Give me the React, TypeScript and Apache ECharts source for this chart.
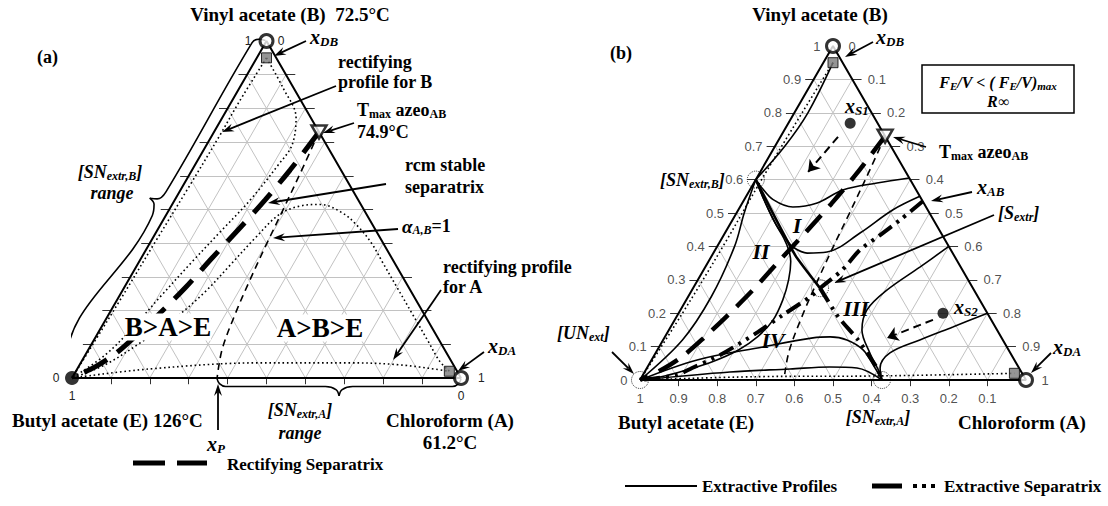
import React, { useEffect, useRef } from "react";
import * as echarts from "echarts";

const SERIF = '"Liberation Serif", "Times New Roman", Times, serif';
const SANS = '"Liberation Sans", Arial, Helvetica, sans-serif';
const SQ = Math.sqrt(3) / 2;

// ---- compositions are [x_A (chloroform), x_B (vinyl acetate)], x_E = 1 - x_A - x_B ----
const GRID_LEVELS = [0.1, 0.2, 0.3, 0.4, 0.5, 0.6, 0.7, 0.8, 0.9];
const TICK_LEVELS = [0, 0.1, 0.2, 0.3, 0.4, 0.5, 0.6, 0.7, 0.8, 0.9, 1];
const LEFT_TICK_LABELS = ["0", "0.1", "0.2", "0.3", "0.4", "0.5", "0.6", "0.7", "0.8", "0.9", "1"];
const RIGHT_TICK_LABELS = ["1", "0.9", "0.8", "0.7", "0.6", "0.5", "0.4", "0.3", "0.2", "0.1", "0"];
const BOTTOM_TICK_LABELS = ["1", "0.9", "0.8", "0.7", "0.6", "0.5", "0.4", "0.3", "0.2", "0.1"];

const V_E = [0, 0];
const V_A = [1, 0];
const V_B = [0, 1];
const AZEO_AB = [0.27, 0.73];
const X_DB = [0.025, 0.95];
const X_DA = [0.96, 0.02];
const SN_B = [0, 0.6];
const S_EXTR = [0.329, 0.275];
const SN_A = [0.627, 0];
const UN_EXT = [0, 0];
const X_S1 = [0.16, 0.769];
const X_S2 = [0.685, 0.2];

// rectifying separatrix (rcm stable separatrix)
const RECT_SEPARATRIX = [[0.27, 0.73], [0.252, 0.617], [0.232, 0.528], [0.209, 0.445], [0.182, 0.356], [0.157, 0.267], [0.13, 0.193], [0.103, 0.128], [0.075, 0.071], [0.043, 0.033], [0, 0]];
// univolatility curve alpha_AB = 1
const ALPHA_AB = [[0.27, 0.73], [0.28, 0.638], [0.293, 0.499], [0.301, 0.401], [0.312, 0.291], [0.325, 0.187], [0.344, 0.083], [0.373, 0]];

// (a) rectifying profiles
const PROF_B_LEFT_A = [[0.025, 0.95], [0.02, 0.82], [0.02, 0.72], [0.017, 0.57], [0.012, 0.4], [0.008, 0.23], [0.004, 0.11], [0, 0]];
const PROF_B_RIGHT_A = [[0.025, 0.95], [0.112, 0.861], [0.19, 0.772], [0.22, 0.691], [0.214, 0.632], [0.194, 0.528], [0.164, 0.433], [0.136, 0.344], [0.106, 0.24], [0.082, 0.151], [0.051, 0.068], [0, 0]];
const PROF_A_UPPER_A = [[0.96, 0.02], [0.92, 0.05], [0.86, 0.11], [0.78, 0.19], [0.7, 0.27], [0.63, 0.34], [0.57, 0.4], [0.51, 0.45], [0.45, 0.49], [0.38, 0.515], [0.33, 0.51], [0.29, 0.485], [0.263, 0.415], [0.239, 0.335], [0.214, 0.255], [0.176, 0.178], [0.123, 0.104], [0.065, 0.039], [0, 0]];
const PROF_A_LOWER_A = [[0, 0], [0.187, 0.027], [0.46, 0.045], [0.69, 0.045], [0.824, 0.039], [0.96, 0.02]];

// (b) rectifying profiles
const PROF_B_B = [[0.025, 0.95], [0.02, 0.8], [0.015, 0.6], [0.015, 0.4], [0.01, 0.2], [0, 0]];
const PROF_A_B = [[0, 0], [0.3, 0.01], [0.6, 0.012], [0.96, 0.02]];

// (b) extractive profiles
const EXT_P1 = [[0.025, 0.95], [0.035, 0.8], [0.025, 0.7], [0, 0.6]];
const EXT_P2 = [[0, 0.6], [0.02, 0.5], [0.045, 0.4], [0.06, 0.25], [0.05, 0.12], [0, 0]];
const EXT_II = [[0, 0.6], [0.06, 0.53], [0.12, 0.465], [0.16, 0.425], [0.19, 0.39], [0.213, 0.355], [0.235, 0.3], [0.25, 0.24], [0.255, 0.18], [0.24, 0.13], [0.21, 0.09], [0.16, 0.055], [0.1, 0.028], [0.05, 0.01], [0, 0]];
const EXT_I1 = [[0, 0.6], [0.025, 0.578], [0.075, 0.54], [0.137, 0.518], [0.194, 0.53], [0.241, 0.569], [0.319, 0.59], [0.395, 0.605]];
const EXT_I2 = [[0, 0.6], [0.06, 0.53], [0.12, 0.465], [0.171, 0.419], [0.197, 0.398], [0.243, 0.38], [0.293, 0.383], [0.35, 0.44], [0.4, 0.509], [0.45, 0.55]];
const EXT_III1 = [[0.627, 0], [0.611, 0.021], [0.555, 0.081], [0.5, 0.15], [0.483, 0.21], [0.505, 0.269], [0.556, 0.338], [0.6, 0.4]];
const EXT_III2 = [[0.627, 0], [0.604, 0.036], [0.607, 0.081], [0.665, 0.12], [0.731, 0.159], [0.8, 0.2]];
const EXT_IV1 = [[0, 0], [0.118, 0.06], [0.269, 0.099], [0.385, 0.126], [0.428, 0.129], [0.476, 0.12], [0.533, 0.09], [0.591, 0.036], [0.627, 0]];
const EXT_IV2 = [[0, 0], [0.221, 0.024], [0.372, 0.033], [0.472, 0.039], [0.544, 0.036], [0.627, 0]];

// (b) extractive separatrices
const SEP_SNB_S = [[0, 0.6], [0.215, 0.374], [0.329, 0.275]];
const SEP_S_SNA = [[0.329, 0.275], [0.419, 0.189], [0.505, 0.12], [0.602, 0.03], [0.627, 0]];
const SEP_XAB_UN = [[0.465, 0.535], [0.434, 0.479], [0.405, 0.434], [0.375, 0.389], [0.359, 0.329], [0.329, 0.275], [0.316, 0.249], [0.273, 0.195], [0.234, 0.144], [0.17, 0.075], [0.117, 0.036], [0.088, 0.015], [0, 0]];

// (b) profile direction arrows from the feed points
const ARROW_S1 = [[0.149, 0.728], [0.124, 0.623]];
const ARROW_S2 = [[0.669, 0.18], [0.577, 0.126]];

const tern = (p: number[]) => [p[0] + p[1] / 2, p[1] * SQ];
const toXY = (arr: number[][]) => arr.map(tern);

const RICH: any = {
  t: { fontFamily: SERIF, fontWeight: "bold", fontSize: 19, lineHeight: 21 },
  b: { fontFamily: SERIF, fontWeight: "bold", fontSize: 18, lineHeight: 20 },
  bs: { fontFamily: SERIF, fontWeight: "bold", fontSize: 12, lineHeight: 11, verticalAlign: "bottom" },
  bi: { fontFamily: SERIF, fontWeight: "bold", fontStyle: "italic", fontSize: 18, lineHeight: 19 },
  bis: { fontFamily: SERIF, fontWeight: "bold", fontStyle: "italic", fontSize: 12, lineHeight: 11, verticalAlign: "bottom" },
  bx: { fontFamily: SERIF, fontWeight: "bold", fontStyle: "italic", fontSize: 16, lineHeight: 19 },
  bxs: { fontFamily: SERIF, fontWeight: "bold", fontStyle: "italic", fontSize: 11, lineHeight: 11, verticalAlign: "bottom" },
  x: { fontFamily: SERIF, fontWeight: "bold", fontStyle: "italic", fontSize: 20, lineHeight: 21 },
  xs: { fontFamily: SERIF, fontWeight: "bold", fontStyle: "italic", fontSize: 13, lineHeight: 12, verticalAlign: "bottom" },
  al: { fontFamily: SERIF, fontWeight: "bold", fontStyle: "italic", fontSize: 19, lineHeight: 20 },
  big: { fontFamily: SERIF, fontWeight: "bold", fontSize: 27, lineHeight: 28, backgroundColor: "#fff" },
  rn: { fontFamily: SERIF, fontWeight: "bold", fontStyle: "italic", fontSize: 22, lineHeight: 22 },
  leg: { fontFamily: SERIF, fontWeight: "bold", fontSize: 17, lineHeight: 19 },
  n: { fontFamily: SANS, fontSize: 12, lineHeight: 13, fill: "#222" },
};

function T(x: number, y: number, text: string, align: string = "left") {
  return {
    type: "text", x, y, z: 60, silent: true,
    style: { text, rich: RICH, align, verticalAlign: "middle", fill: "#000", fontFamily: SERIF, fontSize: 15, fontWeight: "bold" },
  };
}

function arrow(x1: number, y1: number, x2: number, y2: number, w = 1.8, head = 12, barb = 4) {
  const a = Math.atan2(y2 - y1, x2 - x1);
  const c = Math.cos(a), s = Math.sin(a);
  const bx = x2 - head * c, by = y2 - head * s;
  const nx = x2 - head * 0.65 * c, ny = y2 - head * 0.65 * s;
  return [
    { type: "line", z: 50, silent: true, shape: { x1, y1, x2: nx, y2: ny }, style: { stroke: "#000", lineWidth: w } },
    { type: "polygon", z: 50, silent: true, shape: { points: [[x2, y2], [bx - barb * s, by + barb * c], [nx, ny], [bx + barb * s, by - barb * c]] }, style: { fill: "#000" } },
  ];
}

function hline(x1: number, x2: number, y: number, w: number, extra: any = {}) {
  return { type: "line", z: 50, silent: true, shape: { x1, y1: y, x2, y2: y }, style: { stroke: "#000", lineWidth: w, ...extra } };
}

function curve(gi: number, pts: number[][], lineStyle: any, smooth: number | boolean = 0.35, z = 4) {
  return {
    type: "line", xAxisIndex: gi, yAxisIndex: gi, data: toXY(pts), showSymbol: false, symbol: "none",
    smooth, clip: false, silent: true, z, lineStyle: { color: "#000", ...lineStyle },
  };
}

function segs(gi: number, list: number[][][], lineStyle: any, z = 2) {
  return {
    type: "lines", coordinateSystem: "cartesian2d", xAxisIndex: gi, yAxisIndex: gi, clip: false, silent: true, z,
    data: list.map((c) => ({ coords: c })), lineStyle: { opacity: 1, ...lineStyle }, symbol: ["none", "none"],
  };
}

function marker(gi: number, p: number[], symbol: string, size: any, itemStyle: any, extra: any = {}) {
  return {
    type: "scatter", xAxisIndex: gi, yAxisIndex: gi, data: [tern(p)], symbol, symbolSize: size, clip: false,
    silent: true, z: 10, itemStyle, ...extra,
  };
}

function triangleBase(gi: number) {
  const out: any[] = [];
  const grid: number[][][] = [];
  GRID_LEVELS.forEach((t) => {
    grid.push([tern([0, t]), tern([1 - t, t])]);
    grid.push([tern([t, 0]), tern([t, 1 - t])]);
    grid.push([tern([1 - t, 0]), tern([0, 1 - t])]);
  });
  out.push(segs(gi, grid, { color: "#c2c2c2", width: 1 }, 1));
  const ticks: number[][][] = [];
  GRID_LEVELS.forEach((t) => {
    const l = tern([0, t]);
    ticks.push([[l[0] - 0.022, l[1]], l]);
    const r = tern([1 - t, t]);
    ticks.push([r, [r[0] + 0.024, r[1]]]);
    ticks.push([[t, 0], [t, -0.016]]);
  });
  out.push(segs(gi, ticks, { color: "#333", width: 1 }, 2));
  out.push(curve(gi, [V_E, V_A, V_B, V_E], { width: 2 }, false, 5));
  return out;
}

function brace(gi: number, p0: number[], p1: number[], n: number[], d: number, cusp: number, lineW = 1.6) {
  const L = Math.hypot(p1[0] - p0[0], p1[1] - p0[1]);
  const u = [(p1[0] - p0[0]) / L, (p1[1] - p0[1]) / L];
  const P = (s: number, k: number) => [p0[0] + u[0] * s + n[0] * k, p0[1] + u[1] * s + n[1] * k];
  const m = L / 2;
  const h1 = [P(0, 0.1 * d), P(0.006, 0.65 * d), P(0.022, d), P(m - 0.035, d), P(m - 0.008, 1.35 * d), P(m, cusp)];
  const h2 = [P(m, cusp), P(m + 0.008, 1.35 * d), P(m + 0.035, d), P(L - 0.022, d), P(L - 0.006, 0.65 * d), P(L, 0.1 * d)];
  const mk = (pts: number[][]) => ({
    type: "line", xAxisIndex: gi, yAxisIndex: gi, data: pts, showSymbol: false, symbol: "none", smooth: 0.4,
    clip: false, silent: true, z: 4, lineStyle: { color: "#000", width: lineW },
  });
  return [mk(h1), mk(h2)];
}

function tickLabels(gi: number) {
  const base = { type: "scatter", xAxisIndex: gi, yAxisIndex: gi, symbolSize: 1, clip: false, silent: true, z: 8, itemStyle: { color: "rgba(0,0,0,0)" } };
  const lab = (position: string, distance: number) => ({ show: true, position, distance, formatter: "{b}", color: "#222", fontFamily: SANS, fontSize: 13 });
  return [
    { ...base, data: TICK_LEVELS.map((t, i) => ({ value: tern([0, t]), name: LEFT_TICK_LABELS[i] })), label: lab("left", 12) },
    { ...base, data: TICK_LEVELS.map((t, i) => ({ value: tern([1 - t, t]), name: RIGHT_TICK_LABELS[i] })), label: lab("right", 15) },
    { ...base, data: BOTTOM_TICK_LABELS.map((s, i) => ({ value: tern([TICK_LEVELS[i], 0]), name: s })), label: lab("bottom", 11) },
  ];
}

const DOTTED = { type: [1.6, 2.8], width: 1.6 };
const RING = { color: "#fff", borderColor: "#000", borderWidth: 3 };
const SQUARE = { color: "#7a7a7a", borderColor: "#000", borderWidth: 1 };
const AZEO = { color: "#fff", borderColor: "#000", borderWidth: 2.5 };
const DOT_CIRCLE = { color: "rgba(255,255,255,0)", borderColor: "#000", borderWidth: 1, borderType: "dotted" };

export default function App() {
  const ref = useRef<HTMLDivElement>(null);
  useEffect(() => {
    if (!ref.current) return;
    const chart = echarts.init(ref.current, undefined, { renderer: "svg" });

    const series: any[] = [];
    // ---------- (a) ----------
    series.push(...triangleBase(0));
    series.push(curve(0, PROF_B_LEFT_A, DOTTED));
    series.push(curve(0, PROF_B_RIGHT_A, DOTTED));
    series.push(curve(0, PROF_A_UPPER_A, DOTTED));
    series.push(curve(0, PROF_A_LOWER_A, DOTTED));
    series.push(curve(0, ALPHA_AB, { type: [7, 5], width: 1.6 }));
    series.push(curve(0, RECT_SEPARATRIX, { type: [26, 13], width: 5 }, 0.3, 6));
    series.push(...brace(0, [0.5, SQ], [0, 0], [-SQ, 0.5], 0.03, 0.058));
    series.push(...brace(0, tern([0.373, 0]), [1, 0], [0, -1], 0.022, 0.046));
    series.push(marker(0, V_B, "circle", 13, RING));
    series.push(marker(0, X_DB, "rect", 10, SQUARE));
    series.push(marker(0, AZEO_AB, "triangle", [15, 13], AZEO, { symbolRotate: 180 }));
    series.push(marker(0, V_E, "circle", 14, { color: "#000" }));
    series.push(marker(0, V_A, "circle", 13, RING));
    series.push(marker(0, X_DA, "rect", 10, SQUARE));

    // ---------- (b) ----------
    series.push(...triangleBase(1));
    series.push(curve(1, PROF_B_B, DOTTED));
    series.push(curve(1, PROF_A_B, DOTTED));
    series.push(curve(1, ALPHA_AB, { type: [7, 5], width: 1.6 }));
    series.push(curve(1, RECT_SEPARATRIX, { type: [22, 12], width: 4.5 }, 0.3, 6));
    [EXT_P1, EXT_P2, EXT_II, EXT_I1, EXT_I2, EXT_III1, EXT_III2, EXT_IV1, EXT_IV2].forEach((c) =>
      series.push(curve(1, c, { width: 1.6 }))
    );
    series.push(curve(1, SEP_SNB_S, { width: 2.6 }, 0.2, 6));
    series.push(curve(1, SEP_S_SNA, { type: [16, 6, 3, 6, 3, 6], width: 4 }, 0.2, 6));
    series.push(curve(1, SEP_XAB_UN, { type: [16, 6, 3, 6, 3, 6], width: 4 }, 0.3, 6));
    series.push({
      type: "lines", coordinateSystem: "cartesian2d", xAxisIndex: 1, yAxisIndex: 1, clip: false, silent: true, z: 7,
      data: [{ coords: toXY(ARROW_S1) }, { coords: toXY(ARROW_S2) }],
      symbol: ["none", "arrow"], symbolSize: 11,
      lineStyle: { color: "#000", width: 2, type: [8, 5], opacity: 1 },
    });
    series.push(marker(1, V_B, "circle", 13, RING));
    series.push(marker(1, X_DB, "rect", 10, SQUARE));
    series.push(marker(1, AZEO_AB, "triangle", [15, 13], AZEO, { symbolRotate: 180 }));
    series.push(marker(1, V_A, "circle", 13, RING));
    series.push(marker(1, X_DA, "rect", 10, SQUARE));
    series.push(marker(1, X_S1, "circle", 11, { color: "#000" }));
    series.push(marker(1, X_S2, "circle", 11, { color: "#000" }));
    [UN_EXT, SN_B, S_EXTR, SN_A].forEach((p) => series.push(marker(1, p, "circle", 17, DOT_CIRCLE)));
    series.push(...tickLabels(1));

    const graphic: any[] = [
      // ----- (a) annotations -----
      T(290, 14, "{t|Vinyl acetate (B)  72.5°C}", "center"),
      T(37, 57, "{b|(a)}"),
      T(248, 41, "{n|1}", "center"),
      T(281, 41, "{n|0}", "center"),
      T(310, 37, "{x|x}{xs|DB}"),
      ...arrow(306, 41, 274, 56),
      T(338, 62, "{b|rectifying}"),
      T(338, 82, "{b|profile for B}"),
      ...arrow(336, 86, 222, 132),
      T(357, 110, "{b|T}{bs|max}{b| azeo}{bs|AB}"),
      T(357, 132, "{b|74.9°C}"),
      ...arrow(354, 123, 323, 133),
      T(405, 165, "{b|rcm stable}"),
      T(405, 187, "{b|separatrix}"),
      ...arrow(386, 184, 268, 203),
      T(402, 226, "{al|α}{bis|A,B}{b|=1}"),
      ...arrow(398, 229, 273, 238),
      T(443, 267, "{b|rectifying profile}"),
      T(443, 287, "{b|for A}"),
      ...arrow(441, 290, 393, 360),
      T(488, 346, "{x|x}{xs|DA}"),
      ...arrow(484, 352, 458, 371),
      T(478, 378, "{n|1}"),
      T(461, 396, "{n|0}", "center"),
      T(56, 378, "{n|0}", "center"),
      T(72, 396, "{n|1}", "center"),
      T(110, 172, "{bi|[SN}{bis|extr,B}{bi|]}", "center"),
      T(112, 193, "{bi|range}", "center"),
      T(168, 327, "{big|B>A>E}", "center"),
      T(320, 328, "{big|A>B>E}", "center"),
      T(12, 420, "{t|Butyl acetate (E) 126°C}"),
      T(300, 410, "{bi|[SN}{bis|extr,A}{bi|]}", "center"),
      T(300, 433, "{bi|range}", "center"),
      T(450, 420, "{t|Chloroform (A)}", "center"),
      T(450, 442, "{t|61.2°C}", "center"),
      T(207, 444, "{x|x}{xs|P}"),
      ...arrow(218, 430, 218, 384),
      hline(133, 165, 463, 5),
      hline(177, 207, 463, 5),
      T(227, 464, "{leg|Rectifying Separatrix}"),

      // ----- (b) annotations -----
      T(820, 14, "{t|Vinyl acetate (B)}", "center"),
      T(610, 53, "{b|(b)}"),
      T(876, 37, "{x|x}{xs|DB}"),
      ...arrow(873, 42, 845, 57),
      { type: "rect", z: 40, silent: true, shape: { x: 922, y: 65, width: 152, height: 48 }, style: { fill: "#fff", stroke: "#000", lineWidth: 1.5 } },
      T(998, 82, "{bx|F}{bxs|E}{bx|/V < ( F}{bxs|E}{bx|/V)}{bxs|max}", "center"),
      T(998, 101, "{bx|R∞}", "center"),
      T(939, 152, "{b|T}{bs|max}{b| azeo}{bs|AB}"),
      ...arrow(926, 147, 893, 137),
      T(977, 187, "{x|x}{xs|AB}"),
      ...arrow(972, 192, 931, 201),
      T(998, 213, "{bi|[S}{bis|extr}{bi|]}"),
      ...arrow(994, 215, 834, 283),
      T(845, 106, "{x|x}{xs|S1}"),
      T(954, 307, "{x|x}{xs|S2}"),
      T(660, 180, "{bi|[SN}{bis|extr,B}{bi|]}"),
      T(557, 333, "{bi|[UN}{bis|ext}{bi|]}"),
      ...arrow(612, 352, 634, 374),
      T(878, 417, "{bi|[SN}{bis|extr,A}{bi|]}", "center"),
      T(618, 422, "{t|Butyl acetate (E)}"),
      T(958, 422, "{t|Chloroform (A)}"),
      T(1053, 347, "{x|x}{xs|DA}"),
      ...arrow(1051, 353, 1031, 373),
      T(797, 225, "{rn|I}", "center"),
      T(761, 251, "{rn|II}", "center"),
      T(856, 308, "{rn|III}", "center"),
      T(773, 340, "{rn|IV}", "center"),
      hline(625, 697, 486, 2),
      T(702, 486, "{leg|Extractive Profiles}"),
      hline(872, 902, 486, 5),
      { type: "rect", z: 50, silent: true, shape: { x: 913, y: 484, width: 4, height: 4 }, style: { fill: "#000" } },
      { type: "rect", z: 50, silent: true, shape: { x: 922, y: 484, width: 4, height: 4 }, style: { fill: "#000" } },
      { type: "rect", z: 50, silent: true, shape: { x: 931, y: 484, width: 4, height: 4 }, style: { fill: "#000" } },
      T(944, 486, "{leg|Extractive Separatrix}"),
    ];

    chart.setOption({
      animation: false,
      backgroundColor: "#fff",
      grid: [
        { left: 72, top: 41, width: 389, height: 337, outerBoundsMode: "none" },
        { left: 640, top: 46, width: 386, height: 334, outerBoundsMode: "none" },
      ],
      xAxis: [
        { type: "value", gridIndex: 0, min: 0, max: 1, show: false },
        { type: "value", gridIndex: 1, min: 0, max: 1, show: false },
      ],
      yAxis: [
        { type: "value", gridIndex: 0, min: 0, max: SQ, show: false },
        { type: "value", gridIndex: 1, min: 0, max: SQ, show: false },
      ],
      series,
      graphic: { elements: graphic },
    });
    return () => chart.dispose();
  }, []);
  return <div ref={ref} style={{ position: "absolute", left: 0, top: 0, width: 1108, height: 506, background: "#fff" }} />;
}
